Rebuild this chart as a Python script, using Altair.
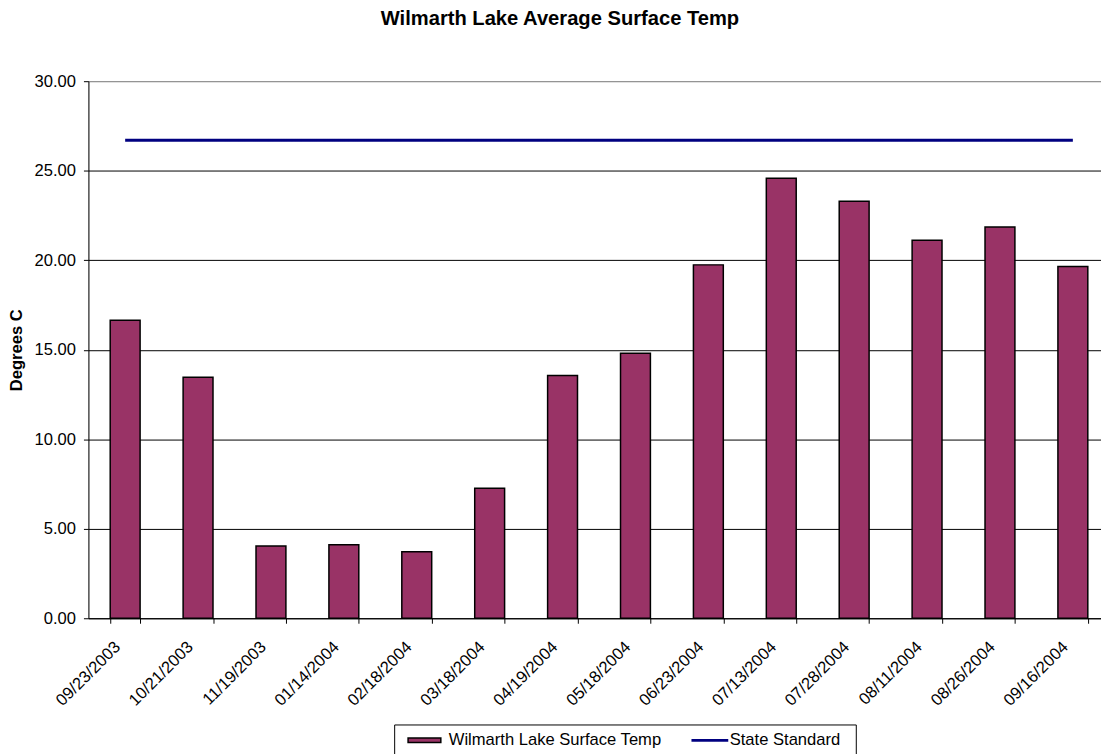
import altair as alt
import pandas as pd

dates = ["09/23/2003", "10/21/2003", "11/19/2003", "01/14/2004", "02/18/2004",
         "03/18/2004", "04/19/2004", "05/18/2004", "06/23/2004", "07/13/2004",
         "07/28/2004", "08/11/2004", "08/26/2004", "09/16/2004"]
temps = [16.64, 13.46, 4.03, 4.10, 3.72, 7.26, 13.56, 14.80, 19.74, 24.58,
         23.29, 21.11, 21.85, 19.65]
standard = [26.7] * len(dates)

bar_name = "Wilmarth Lake Surface Temp"
line_name = "State Standard"

bars_df = pd.DataFrame({"date": dates, "temp": temps, "sbar": bar_name})
line_df = pd.DataFrame({"date": dates, "temp": standard, "sline": line_name})

FONT = "Liberation Sans"
FS = 16.7

x_scale = alt.Scale(type="band", paddingInner=0.59, paddingOuter=0.24, align=0.623)
x_axis = alt.Axis(
    labelAngle=-45, labelAlign="right", labelBaseline="middle",
    labelFontSize=FS, labelFont=FONT, labelColor="black",
    tickBand="extent", tickSize=5, tickColor="black",
    labelPadding=21, labelOffset=-8,
    domainColor="black", grid=False, labelOverlap=False,
)
x_enc = alt.X("date:N", sort=dates, title=None, scale=x_scale, axis=x_axis)

y_scale = alt.Scale(domain=[0, 30], nice=False)
y_enc = alt.Y(
    "temp:Q", title="Degrees C", scale=y_scale,
    axis=alt.Axis(
        values=[0, 5, 10, 15, 20, 25, 30], format=".2f",
        labelFontSize=FS, labelFont=FONT, labelColor="black", labelPadding=8,
        tickSize=5, tickColor="black", domainColor="black",
        grid=True,
        gridColor={"condition": {"test": "datum.value === 30", "value": "#808080"}, "value": "black"},
        titleFont=FONT, titleFontSize=FS, titleFontWeight="bold", titleColor="black",
        titlePadding=9,
    ),
)

tail = "\u00a0\u00a0\u200c"

legend_main = alt.Legend(
    title=None, orient="none", legendX=308, legendY=648, direction="horizontal",
    labelFont=FONT, labelFontSize=FS, labelColor="black",
    labelExpr="datum.value === '" + line_name + "' ? datum.label + '" + tail + "' : datum.label",
    strokeColor="black", fillColor="white", padding=6, symbolOffset=15,
    symbolType="M-1.94,-0.265H1.94V0.265H-1.94Z", symbolSize=289,
    symbolStrokeWidth=1.5, symbolOpacity=1,
    labelOffset=15, labelLimit=2000, columnPadding=19,
)
legend_line = alt.Legend(
    title=None, orient="none", legendX=616, legendY=654, direction="horizontal",
    labelExpr="''", labelFontSize=FS,
    padding=0, symbolType="M-2.18,0H2.18", symbolSize=289,
    symbolOffset=0, symbolFillColor="transparent", symbolStrokeColor="#000080",
    symbolStrokeWidth=3, symbolOpacity=1, labelOffset=0, zindex=2,
)

bars = alt.Chart(bars_df).mark_bar(strokeWidth=1.5, opacity=1).encode(
    x=x_enc, y=y_enc,
    fill=alt.Fill("sbar:N", scale=alt.Scale(domain=[bar_name, line_name],
                                            range=["#993366", "transparent"]),
                  legend=legend_main),
    stroke=alt.Stroke("sbar:N", scale=alt.Scale(domain=[bar_name, line_name],
                                                range=["black", "transparent"]),
                      legend=legend_main),
)

line = alt.Chart(line_df).mark_line(stroke="#000080", strokeWidth=3).encode(
    x=alt.X("date:N", sort=dates, title=None, scale=x_scale, axis=x_axis),
    y=alt.Y("temp:Q", scale=y_scale),
    strokeDash=alt.StrokeDash("sline:N", scale=alt.Scale(domain=[line_name], range=[[1, 0]]),
                              legend=legend_line),
)

chart = alt.layer(bars, line).properties(
    width=1020, height=541,
    title=alt.TitleParams(
        "Wilmarth Lake Average Surface Temp", font=FONT, fontSize=20.3,
        fontWeight="bold", color="black", dx=-35, offset=28, baseline="alphabetic",
    ),
    autosize=alt.AutoSizeParams(type="none"),
    padding={"left": 81, "top": 71, "right": 0, "bottom": 134},
).configure_view(stroke=None).configure(background="white")

chart.save("out.html", embed_options={"renderer": "svg", "actions": False})
